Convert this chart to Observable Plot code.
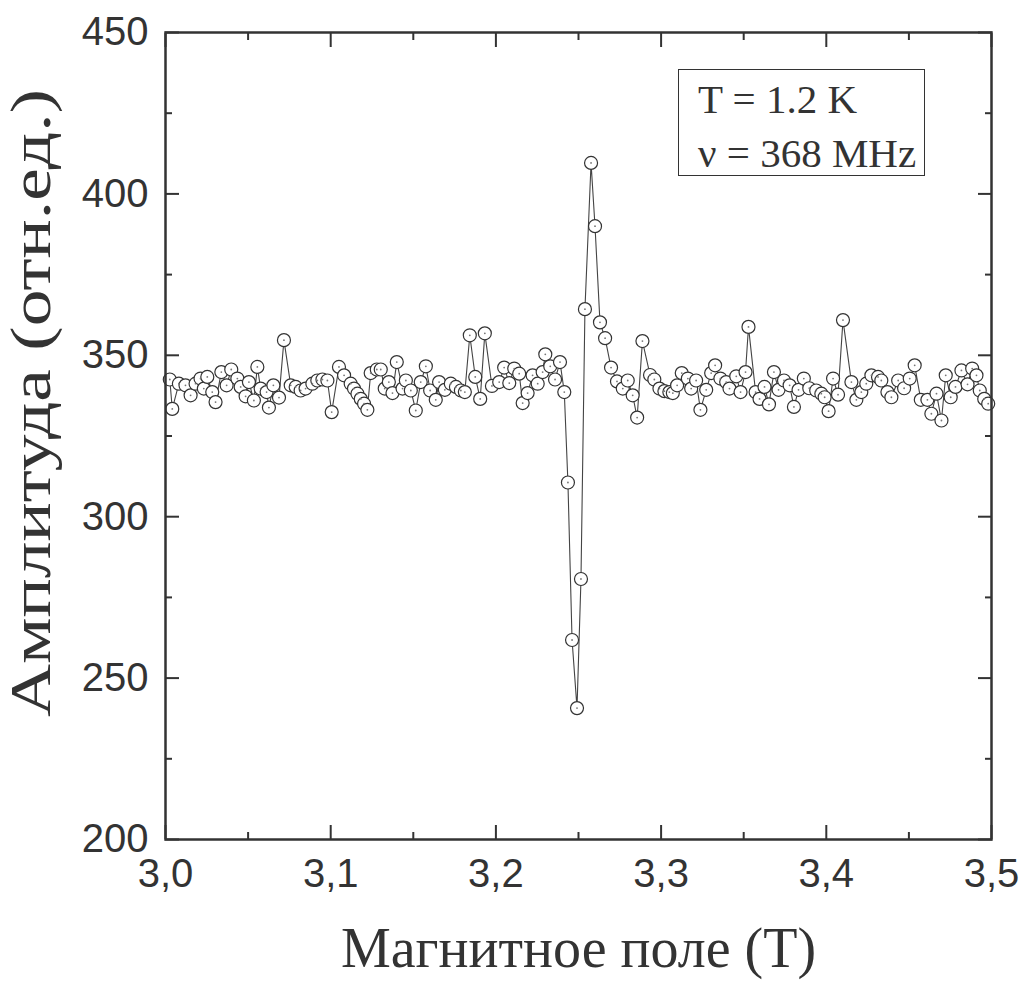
<!DOCTYPE html>
<html>
<head>
<meta charset="utf-8">
<script src="https://cdn.jsdelivr.net/npm/d3@7"></script>
<script src="https://cdn.jsdelivr.net/npm/@observablehq/plot@0.6"></script>
<style>
  html, body { margin: 0; padding: 0; background: #fff; }
  #wrap { position: relative; width: 1024px; height: 985px; }
  #legend {
    position: absolute; left: 678px; top: 69px; width: 247px; height: 107px;
    border: 1.5px solid #333; background: #fff;
    font-family: "Liberation Serif", "Times New Roman", serif; font-size: 41px; color: #333;
    box-sizing: border-box;
  }
  #legend div { position: absolute; left: 19px; white-space: nowrap; line-height: 1; }
</style>
</head>
<body>
<div id="wrap"></div>
<script>
// Magnetic field (T)
const field = [3.0026,3.0041,3.0081,3.0121,3.0152,3.0182,3.0212,3.0232,3.0253,3.0283,
3.0303,3.0338,3.0370,3.0398,3.0435,3.0455,3.0485,3.0505,3.0535,3.0556,
3.0576,3.0612,3.0626,3.0653,3.0687,3.0717,3.0758,3.0788,3.0818,3.0848,
3.0889,3.0919,3.0950,3.0980,3.1006,3.1050,3.1081,3.1121,3.1141,3.1162,
3.1182,3.1202,3.1222,3.1242,3.1279,3.1303,3.1327,3.1352,3.1374,3.1400,
3.1435,3.1455,3.1485,3.1515,3.1545,3.1576,3.1602,3.1636,3.1656,3.1691,
3.1727,3.1758,3.1788,3.1812,3.1842,3.1875,3.1905,3.1933,3.1976,3.2020,
3.2050,3.2081,3.2111,3.2141,3.2162,3.2192,3.2222,3.2253,3.2283,3.2299,
3.2329,3.2358,3.2388,3.2414,3.2436,3.2461,3.2491,3.2515,3.2539,3.2576,
3.2600,3.2630,3.2661,3.2697,3.2733,3.2768,3.2798,3.2828,3.2855,3.2887,
3.2933,3.2959,3.2990,3.3020,3.3050,3.3071,3.3097,3.3125,3.3162,3.3182,
3.3212,3.3238,3.3273,3.3303,3.3327,3.3359,3.3394,3.3414,3.3455,3.3481,
3.3511,3.3529,3.3572,3.3596,3.3626,3.3653,3.3683,3.3711,3.3744,3.3778,
3.3804,3.3832,3.3864,3.3897,3.3939,3.3970,3.3990,3.4014,3.4041,3.4071,
3.4101,3.4152,3.4182,3.4212,3.4242,3.4273,3.4313,3.4333,3.4370,3.4394,
3.4435,3.4471,3.4505,3.4535,3.4572,3.4612,3.4636,3.4667,3.4697,3.4723,
3.4753,3.4782,3.4818,3.4855,3.4883,3.4909,3.4929,3.4956,3.4980];

// Amplitude (arb. units)
const amplitude = [342.5,333.4,341.2,340.7,337.6,341.2,342.8,339.7,343.3,338.6,
335.5,344.8,340.7,345.6,342.8,340.2,337.3,341.7,336.0,346.4,
339.7,338.6,333.8,340.7,336.9,354.7,340.7,340.2,339.1,339.7,
341.2,342.2,342.5,342.2,332.4,346.4,343.8,341.2,339.7,338.1,
336.5,335.0,333.1,344.5,345.6,345.6,339.7,341.7,338.3,347.9,
339.7,342.2,339.1,332.9,341.7,346.6,339.1,336.2,341.7,339.3,
341.2,340.2,339.1,338.6,356.2,343.3,336.5,356.8,340.5,341.7,
346.2,341.4,345.9,344.3,335.2,338.3,343.8,341.2,344.8,350.3,
346.6,342.5,347.9,338.6,310.6,261.8,240.7,280.7,364.3,409.6,
390.0,360.2,355.3,346.2,341.9,339.7,342.2,337.6,330.7,354.4,
343.9,342.5,339.7,338.9,338.6,338.3,340.7,344.5,342.8,339.7,
342.2,333.1,339.3,344.5,346.9,342.8,341.7,339.7,343.5,338.6,
344.8,358.8,338.6,336.5,340.2,334.8,344.8,339.3,342.2,340.7,
334.0,339.3,342.8,339.8,339.1,338.1,337.0,332.7,342.8,337.8,
360.9,341.7,336.2,338.6,341.2,343.8,343.3,342.2,338.6,337.0,
342.2,339.8,342.8,346.9,336.2,336.2,331.9,338.1,329.8,343.8,
337.0,340.2,345.3,341.0,345.9,343.8,339.1,336.5,335.0];

const xMajor = [3.0, 3.1, 3.2, 3.3, 3.4, 3.5];
const xMinor = [3.05, 3.15, 3.25, 3.35, 3.45];
const yMajor = [200, 250, 300, 350, 400, 450];
const yMinor = [225, 275, 325, 375, 425];
const xTitle = "Магнитное поле (T)";
const yTitle = "Амплитуда (отн.ед.)";
const legendLines = ["T = 1.2 K", "ν = 368 MHz"];

const data = field.map((f, i) => ({field: f, amp: amplitude[i]}));

const ink = "#333";
const sans = "'Liberation Sans', Arial, sans-serif";
const serif = "'Liberation Serif', 'Times New Roman', serif";
const fmtX = d => d.toFixed(1).replace(".", ",");

const chart = Plot.plot({
  width: 1024,
  height: 985,
  marginLeft: 165,
  marginRight: 33,
  marginTop: 32,
  marginBottom: 146,
  style: {background: "#fff", color: ink},
  x: {domain: [3.0, 3.5]},
  y: {domain: [200, 450]},
  marks: [
    Plot.lineY(data, {x: "field", y: "amp", stroke: "#444", strokeWidth: 1.1}),
    Plot.dot(data, {x: "field", y: "amp", r: 6.5, fill: "#fff", stroke: ink, strokeWidth: 1.2}),
    Plot.dot(data, {x: "field", y: "amp", r: 0.9, fill: "#777"}),
    // inward ticks
    Plot.axisX(xMajor, {anchor: "bottom", tickSize: -14, tickFormat: () => "", label: null, stroke: ink, strokeWidth: 2}),
    Plot.axisX(xMinor, {anchor: "bottom", tickSize: -7, tickFormat: () => "", label: null, stroke: ink, strokeWidth: 2}),
    Plot.axisX(xMajor, {anchor: "top", tickSize: -14, tickFormat: () => "", label: null, stroke: ink, strokeWidth: 2}),
    Plot.axisX(xMinor, {anchor: "top", tickSize: -7, tickFormat: () => "", label: null, stroke: ink, strokeWidth: 2}),
    Plot.axisY(yMajor, {anchor: "left", tickSize: -14, tickFormat: () => "", label: null, stroke: ink, strokeWidth: 2}),
    Plot.axisY(yMinor, {anchor: "left", tickSize: -7, tickFormat: () => "", label: null, stroke: ink, strokeWidth: 2}),
    Plot.axisY(yMajor, {anchor: "right", tickSize: -14, tickFormat: () => "", label: null, stroke: ink, strokeWidth: 2}),
    Plot.axisY(yMinor, {anchor: "right", tickSize: -7, tickFormat: () => "", label: null, stroke: ink, strokeWidth: 2}),
    // tick labels
    Plot.axisX(xMajor, {anchor: "bottom", tickSize: 0, tickPadding: 19, tickFormat: fmtX, label: null, fontSize: 40, fontFamily: sans, fill: ink}),
    Plot.axisY(yMajor, {anchor: "left", tickSize: 0, tickPadding: 17, tickFormat: d3.format("d"), label: null, fontSize: 40, fontFamily: sans, fill: ink}),
    Plot.frame({stroke: ink, strokeWidth: 2.5}),
    // axis titles
    Plot.text([xTitle], {text: d => d, frameAnchor: "bottom", dy: 110, fontSize: 56, fontFamily: serif, fill: ink, lineAnchor: "middle"}),
    Plot.text([yTitle], {text: d => d, frameAnchor: "left", textAnchor: "middle", dx: -133, dy: -33, rotate: -90, fontSize: 56, fontFamily: serif, fill: ink, lineAnchor: "middle"})
  ]
});

// the reference's vertical title is drawn longer than its natural width
d3.select(chart).selectAll("text").filter(function() { return this.textContent === yTitle; })
  .attr("textLength", 628).attr("lengthAdjust", "spacingAndGlyphs");

const wrap = document.getElementById("wrap");
wrap.appendChild(chart);
const legend = document.createElement("div");
legend.id = "legend";
legendLines.forEach((t, i) => {
  const d = document.createElement("div");
  d.textContent = t;
  d.style.top = (i === 0 ? 9 : 63) + "px";
  legend.appendChild(d);
});
wrap.appendChild(legend);
</script>
</body>
</html>
